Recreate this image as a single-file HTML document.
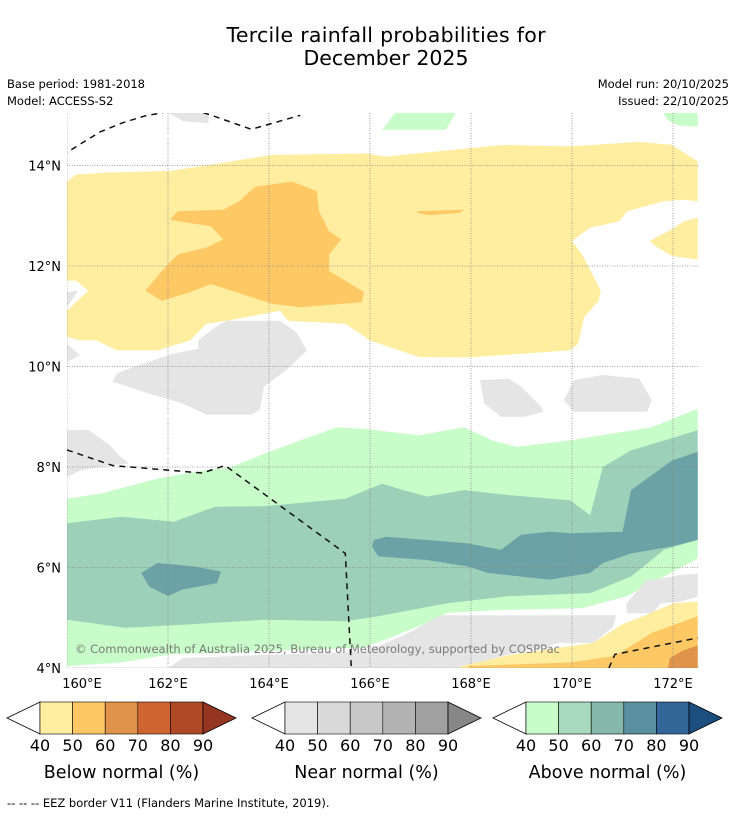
<!DOCTYPE html>
<html><head><meta charset="utf-8">
<style>
html,body{margin:0;padding:0;background:#fff;}
body{width:736px;height:816px;overflow:hidden;font-family:"DejaVu Sans","Liberation Sans",sans-serif;}
svg{display:block;}
</style></head>
<body>
<svg id="chart" width="736" height="816" viewBox="0 0 736 816" xmlns="http://www.w3.org/2000/svg" font-family="DejaVu Sans, Liberation Sans, sans-serif">
  <text x="386" y="42" font-size="20.5" text-anchor="middle" fill="#000" textLength="319">Tercile rainfall probabilities for</text>
  <text x="386" y="65" font-size="20.5" text-anchor="middle" fill="#000">December 2025</text>
  <text x="7" y="88" font-size="11.5" fill="#000" textLength="138">Base period: 1981-2018</text>
  <text x="7" y="105" font-size="11.5" fill="#000">Model: ACCESS-S2</text>
  <text x="729" y="88" font-size="11.5" text-anchor="end" fill="#000">Model run: 20/10/2025</text>
  <text x="729" y="105" font-size="11.5" text-anchor="end" fill="#000">Issued: 22/10/2025</text>
  <defs><clipPath id="mapclip"><rect x="67" y="113" width="631" height="555"/></clipPath></defs>
  <g id="map" clip-path="url(#mapclip)"></g>
  <g id="axes"></g>
  <g id="legend"></g>
  <text x="7" y="807" font-size="11.5" fill="#000">--  --  -- EEZ border V11 (Flanders Marine Institute, 2019).</text>
</svg>
<script>
// ---- data ----
var lonTicks = [160, 162, 164, 166, 168, 170, 172];
var latTicks = [4, 6, 8, 10, 12, 14];
var lonTickLabels = ["160°E","162°E","164°E","166°E","168°E","170°E","172°E"];
var latTickLabels = ["4°N","6°N","8°N","10°N","12°N","14°N"];
var colorbarTicks = ["40","50","60","70","80","90"];
var belowColors = ["#ffeda0","#fec965","#e0934a","#cf6533","#b04a26","#963520"];
var nearColors = ["#e5e5e5","#d9d9d9","#c8c8c8","#b3b3b3","#a0a0a0","#878787"];
var aboveColors = ["#c8fcc8","#a8d8bd","#85b8ab","#5a8f9f","#336699","#1c4e80"];

// contour regions [lon,lat]
var belowYellowMain = [[160,13.68],[160.18,13.82],[160.82,13.86],[162.04,13.89],[163.25,14.08],[164.06,14.21],[165.92,14.24],[166.32,14.18],[167.94,14.34],[168.67,14.41],[169.96,14.38],[171.33,14.47],[171.98,14.41],[172.49,14.08],[172.49,13.29],[172.22,13.32],[171.82,13.29],[171.09,13.09],[170.93,12.89],[170.36,12.76],[170.0,12.5],[170.2,12.23],[170.57,11.51],[170.53,11.31],[170.24,10.98],[170.12,10.45],[169.96,10.32],[167.94,10.18],[166.97,10.19],[166.0,10.52],[165.51,10.85],[164.38,10.91],[164.22,11.11],[163.17,10.91],[162.76,10.85],[162.44,10.52],[161.79,10.32],[160.99,10.32],[160.58,10.52],[160.26,10.52],[160,10.59],[160,11.11],[160.42,11.51],[160.18,11.71],[160,11.71]];
var belowYellowRight = [[171.54,12.5],[171.98,12.73],[172.22,12.89],[172.49,12.96],[172.49,12.13],[171.98,12.2],[171.66,12.39]];
var belowOrangeMain = [[162.04,12.93],[162.2,13.09],[163.09,13.12],[163.41,13.29],[163.73,13.58],[164.46,13.68],[164.95,13.49],[164.99,13.09],[165.19,12.69],[165.43,12.53],[165.19,12.23],[165.19,11.9],[165.51,11.71],[165.88,11.48],[165.84,11.28],[164.62,11.18],[164.06,11.25],[163.25,11.51],[162.85,11.64],[162.44,11.48],[161.88,11.31],[161.55,11.51],[162.0,12.04],[162.2,12.23],[162.77,12.37],[163.09,12.53],[162.85,12.79],[162.2,12.89]];
var belowOrangeSmall = [[166.93,13.09],[167.86,13.12],[167.78,13.06],[167.17,13.01],[166.93,13.06]];
var belowYellowSE = [[167.78,4.0],[167.78,4.03],[168.77,4.26],[170.42,4.5],[170.98,4.86],[171.48,5.06],[172.01,5.29],[172.49,5.32],[172.49,4.0]];
var belowOrangeSE = [[167.94,4.0],[167.94,4.04],[169.96,4.11],[170.85,4.24],[171.58,4.7],[172.49,5.03],[172.49,4.0]];
var belowDarkSE = [[171.9,4.0],[171.94,4.2],[172.2,4.35],[172.49,4.45],[172.49,4.0]];

var nearGrayTop = [[162.0,15.05],[162.8,15.05],[162.8,14.84],[162.3,14.88]];
var nearGrayBig = [[162.6,10.52],[162.93,10.78],[163.17,10.91],[164.22,10.91],[164.54,10.68],[164.75,10.32],[164.38,9.96],[163.9,9.6],[163.82,9.14],[163.65,9.04],[162.77,9.04],[162.28,9.27],[161.63,9.46],[160.9,9.7],[160.99,9.86],[161.31,9.99],[162.12,10.26],[162.6,10.35]];
var nearGrayLeft1 = [[160,11.48],[160.22,11.51],[160,11.18]];
var nearGrayLeft2 = [[160,10.45],[160.26,10.22],[160,10.09]];
var nearGrayLeft3 = [[160,8.73],[160.42,8.74],[160.82,8.46],[161.07,8.2],[161.23,8.07],[160.82,8.03],[160.26,7.93],[160,7.8]];
var nearGrayMid = [[168.18,9.73],[168.75,9.76],[168.99,9.6],[169.39,9.2],[169.43,9.1],[169.07,9.0],[168.59,9.0],[168.26,9.27]];
var nearGrayEast = [[170.04,9.73],[170.6,9.83],[171.33,9.76],[171.58,9.33],[171.49,9.1],[170.04,9.1],[169.84,9.33]];
var nearGraySouth = [[162.0,4.0],[162.3,4.2],[164.5,4.28],[165.84,4.32],[166.32,4.5],[166.81,4.72],[167.12,4.9],[167.39,5.05],[170.88,5.05],[170.81,4.81],[170.42,4.5],[169.76,4.5],[168.71,4.26],[167.78,4.0]];
var nearGraySE = [[171.08,5.29],[171.28,5.52],[171.48,5.75],[171.75,5.78],[172.14,5.85],[172.49,5.88],[172.49,5.42],[172.14,5.32],[171.75,5.29],[171.61,5.09],[171.08,5.09]];

var aboveGreenTop = [[166.5,15.05],[167.7,15.05],[167.5,14.71],[166.24,14.71]];
var aboveGreenTopRight = [[171.8,15.05],[172.49,15.05],[172.49,14.77],[172.1,14.8],[171.9,14.9]];
var aboveGreenBand = [[160,7.37],[160.66,7.47],[161.79,7.77],[162.52,7.9],[163.25,8.0],[163.9,8.26],[164.7,8.56],[165.35,8.79],[165.85,8.76],[166.97,8.63],[167.86,8.79],[168.42,8.53],[168.9,8.4],[169.96,8.53],[170.77,8.66],[171.58,8.79],[172.49,9.16],[172.49,6.18],[171.82,5.82],[171.09,5.43],[170.2,5.19],[168.75,5.16],[167.53,5.1],[167.29,4.96],[166.81,4.77],[166.32,4.57],[165.84,4.4],[163.9,4.34],[162.04,4.27],[161.07,4.11],[160,4.04]];
var aboveMidBand = [[160,6.88],[161.07,7.01],[162.12,6.91],[162.93,7.21],[163.9,7.22],[165.51,7.37],[166.24,7.67],[166.56,7.57],[167.13,7.41],[167.86,7.54],[168.75,7.44],[169.96,7.34],[170.36,7.04],[170.61,8.0],[171.17,8.33],[172.49,8.73],[172.49,6.55],[171.82,6.35],[171.17,5.82],[170.36,5.49],[168.75,5.43],[167.53,5.29],[166.16,5.03],[165.51,4.93],[163.9,4.96],[162.28,4.86],[161.15,4.8],[160,4.96]];
var aboveTealBand = [[166.08,6.55],[166.32,6.61],[167.94,6.48],[168.59,6.35],[168.99,6.65],[169.56,6.71],[169.96,6.68],[171.0,6.71],[171.17,7.54],[171.98,8.13],[172.49,8.3],[172.49,6.55],[171.98,6.42],[171.17,6.28],[170.61,6.09],[170.36,5.89],[169.56,5.76],[168.34,5.89],[167.94,6.02],[167.13,6.15],[166.16,6.22],[166.04,6.42]];
var aboveTealSmall = [[161.47,5.89],[161.79,6.09],[162.52,6.02],[163.05,5.92],[162.97,5.69],[162.28,5.56],[162.0,5.43],[161.63,5.62]];

var eezNorthA = [[159.9,14.2],[160.3,14.45],[160.66,14.67],[161.1,14.85],[161.55,14.99],[161.9,15.05]];
var eezNorthB = [[162.7,15.05],[162.89,14.99],[163.65,14.72],[164.62,15.0]];
var eezMiddle = [[160,8.34],[160.9,8.03],[162.68,7.88],[163.13,8.03],[165.51,6.28],[165.63,4.0]];
var eezSouthEast = [[170.73,4.0],[170.85,4.27],[172.49,4.6]];

// ---- axes ----
function xs(lon){ return 67 + 50.5*(lon-160); }
function ys(lat){ return 668 - 50.25*(lat-4); }
var NS = "http://www.w3.org/2000/svg";
function mk(tag, attrs, parent){ var e=document.createElementNS(NS,tag); for(var k in attrs){ e.setAttribute(k, attrs[k]); } parent.appendChild(e); return e; }
function pts(a){ return a.map(function(p){ return xs(p[0]).toFixed(1)+","+ys(p[1]).toFixed(1); }).join(" "); }

var map = document.getElementById("map");
function region(arr, fill, name){
  var p = mk("polygon", {points: pts(arr), fill: fill}, map);
  
  
}
region(belowYellowMain, "#ffeda0", "below-normal-40-50-north");
region(belowYellowRight, "#ffeda0", "below-normal-40-50-northeast");
region(belowOrangeMain, "#fec965", "below-normal-50-60-north");
region(belowOrangeSmall, "#fec965", "below-normal-50-60-small");
region(nearGrayTop, "#e5e5e5", "near-normal-top");
region(nearGrayBig, "#e5e5e5", "near-normal-west");
region(nearGrayLeft1, "#e5e5e5", "near-normal-edge-1");
region(nearGrayLeft2, "#e5e5e5", "near-normal-edge-2");
region(nearGrayLeft3, "#e5e5e5", "near-normal-edge-3");
region(nearGrayMid, "#e5e5e5", "near-normal-central");
region(nearGrayEast, "#e5e5e5", "near-normal-east");
region(aboveGreenTop, "#c8fcc8", "above-normal-top");
region(aboveGreenTopRight, "#c8fcc8", "above-normal-top-right");
region(aboveGreenBand, "#c8fcc8", "above-normal-40-50-band");
region(aboveMidBand, "#9dd0b9", "above-normal-50-60-band");
region(aboveTealBand, "#6aa2a5", "above-normal-60-70-band");
region(aboveTealSmall, "#6aa2a5", "above-normal-60-70-west");
region(nearGraySouth, "#e5e5e5", "near-normal-south");
region(nearGraySE, "#e5e5e5", "near-normal-southeast");
region(belowYellowSE, "#ffeda0", "below-normal-40-50-southeast");
region(belowOrangeSE, "#fec965", "below-normal-50-60-southeast");
region(belowDarkSE, "#e0934a", "below-normal-60-70-southeast");

// gridlines
lonTicks.forEach(function(l){
  var g = mk("line", {x1: xs(l), x2: xs(l), y1: 113, y2: 668, stroke: "#888", "stroke-width": 0.8, "stroke-dasharray": "1,1.5"}, map);
  
  
});
latTicks.forEach(function(l){
  var g = mk("line", {x1: 67, x2: 698, y1: ys(l), y2: ys(l), stroke: "#888", "stroke-width": 0.8, "stroke-dasharray": "1,1.5"}, map);
  
  
});

// EEZ borders
[[eezNorthA,"eez-border-north-west"],[eezNorthB,"eez-border-north"],[eezMiddle,"eez-border-middle"],[eezSouthEast,"eez-border-southeast"]].forEach(function(e){
  var l = mk("polyline", {points: pts(e[0]), fill: "none", stroke: "#111", "stroke-width": 1.5, "stroke-dasharray": "6,5"}, map);
  
  
});

var wm = mk("text", {x: 75, y: 653, "font-size": 11.8, fill: "#7a7a7a", textLength: 485, lengthAdjust: "spacingAndGlyphs"}, map);
wm.textContent = "© Commonwealth of Australia 2025, Bureau of Meteorology, supported by COSPPac";



// axis labels
var axes = document.getElementById("axes");
lonTicks.forEach(function(l, i){
  var x = xs(l); if (i === 0) x = 82;
  var t = mk("text", {x: x, y: 688, "font-size": 13, "text-anchor": "middle", fill: "#000"}, axes);
  t.textContent = lonTickLabels[i];
  
  
});
latTicks.forEach(function(l, i){
  var t = mk("text", {x: 61, y: ys(l)+5, "font-size": 13, "text-anchor": "end", fill: "#000"}, axes);
  t.textContent = latTickLabels[i];
  
  
});

// colorbars
var legend = document.getElementById("legend");
function colorbar(x0, colors, title, name){
  var g = mk("g", {}, legend);
  
  
  var y0 = 702, h = 32, cw = 32.6, rx = x0 + 33;
  var lt = mk("polygon", {points: x0+","+(y0+h/2)+" "+rx+","+y0+" "+rx+","+(y0+h), fill: "#fff", stroke: "#000", "stroke-width": 0.8}, g);
  
  
  for (var i = 0; i < 5; i++){
    var r = mk("rect", {x: rx + i*cw, y: y0, width: cw, height: h, fill: colors[i], stroke: "#000", "stroke-width": 0.6}, g);
    
    
  }
  var ex = rx + 5*cw;
  var rt = mk("polygon", {points: ex+","+y0+" "+(ex+33)+","+(y0+h/2)+" "+ex+","+(y0+h), fill: colors[5], stroke: "#000", "stroke-width": 0.8}, g);
  
  
  colorbarTicks.forEach(function(v, i){
    var t = mk("text", {x: rx + i*cw, y: 751, "font-size": 16, "text-anchor": "middle", fill: "#000"}, g);
    t.textContent = v;
    
    
  });
  var tt = mk("text", {x: rx + 2.5*cw, y: 778, "font-size": 17.5, "text-anchor": "middle", fill: "#000"}, g);
  tt.textContent = title;
  
  
}
colorbar(7, belowColors, "Below normal (%)", "below-normal-colorbar");
colorbar(252, nearColors, "Near normal (%)", "near-normal-colorbar");
colorbar(493, aboveColors, "Above normal (%)", "above-normal-colorbar");
</script>
</body></html>
